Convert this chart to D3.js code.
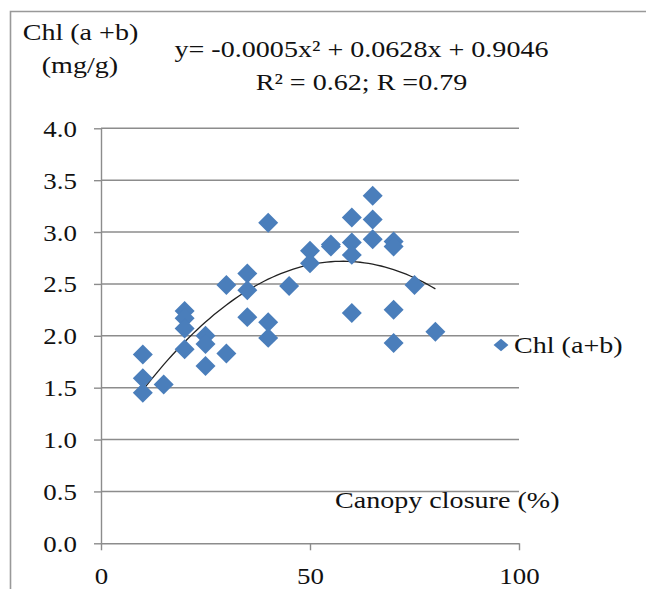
<html>
<head>
<script src="https://d3js.org/d3.v7.min.js"></script>
<style>
  body { margin: 0; background: #fff; }
  text { font-family: "Liberation Serif", "Times New Roman", serif; fill: #111; }
  .grid line { stroke: #8c8c8c; stroke-width: 1.4px; }
  .axis path, .axis line { stroke: #8c8c8c; stroke-width: 1.4px; }
</style>
</head>
<body>
<script>
// canopy closure (%) and chlorophyll (mg/g)
var canopy = [10, 10, 10, 15, 20, 20, 20, 20, 25, 25, 25, 30, 30, 35, 35, 35, 40, 40, 40,
              45, 50, 50, 55, 55, 60, 60, 60, 60, 65, 65, 65, 70, 70, 70, 70, 75, 80];
var chl    = [1.82, 1.59, 1.45, 1.53, 2.24, 2.17, 2.07, 1.87, 2.00, 1.92, 1.71, 2.49, 1.83, 2.60, 2.44, 2.18, 3.09, 2.13, 1.98,
              2.48, 2.82, 2.70, 2.88, 2.86, 3.14, 2.90, 2.78, 2.22, 3.35, 3.12, 2.93, 2.91, 2.86, 2.25, 1.93, 2.49, 2.04];
var xTicks = [0, 50, 100];
var yTicks = [0, 0.5, 1, 1.5, 2, 2.5, 3, 3.5, 4];
var seriesName = "Chl (a+b)";
var yTitle = ["Chl (a +b)", "(mg/g)"];
var xTitle = "Canopy closure (%)";
var equation = "y= -0.0005x² + 0.0628x + 0.9046";
var rLine = "R² = 0.62; R =0.79";

var W = 646, H = 589;
var plotL = 101, plotT = 128.3, plotR = 519, plotB = 543.3;
var sx = 1.17; // the source text is a bit wider than the font

var svg = d3.select("body").append("svg").attr("width", W).attr("height", H);

// outer frame
svg.append("path")
   .attr("d", "M10.5," + H + "V11.5H" + W)
   .attr("fill", "none").attr("stroke", "#999").attr("stroke-width", 1.6);

var x = d3.scaleLinear().domain([0, 100]).range([plotL, plotR]);
var y = d3.scaleLinear().domain([0, 4]).range([plotB, plotT]);

// grid lines
svg.append("g").attr("class", "grid")
   .selectAll("line").data(yTicks.filter(function(d){ return d > 0; }))
   .enter().append("line")
   .attr("x1", x(0)).attr("x2", x(100))
   .attr("y1", function(d){ return y(d); }).attr("y2", function(d){ return y(d); });

// y axis
var gy = svg.append("g").attr("class", "axis")
   .attr("transform", "translate(" + plotL + ",0)")
   .call(d3.axisLeft(y).tickValues(yTicks).tickSize(7).tickSizeOuter(0).tickFormat(d3.format(".1f")));
gy.selectAll("text")
   .attr("x", 0).attr("dy", null).attr("y", 0)
   .attr("transform", "translate(-24,8) scale(" + sx + ",1)")
   .style("font-size", "23px").style("fill", "#111");

// x axis
var gx = svg.append("g").attr("class", "axis")
   .attr("transform", "translate(0," + plotB + ")")
   .call(d3.axisBottom(x).tickValues(xTicks).tickSize(7).tickSizeOuter(0));
gx.selectAll("text")
   .attr("y", 0).attr("dy", null)
   .attr("transform", "translate(0,41) scale(" + sx + ",1)")
   .style("font-size", "23px").style("fill", "#111");

// quadratic trend line fitted to the points (least squares)
function fit2(xs, ys) {
  var s = [0,0,0,0,0], t = [0,0,0];
  xs.forEach(function(v, i) {
    for (var k = 0; k < 5; k++) s[k] += Math.pow(v, k);
    for (var k2 = 0; k2 < 3; k2++) t[k2] += Math.pow(v, k2) * ys[i];
  });
  var A = [[s[0], s[1], s[2], t[0]], [s[1], s[2], s[3], t[1]], [s[2], s[3], s[4], t[2]]];
  for (var c = 0; c < 3; c++) {
    for (var r = c + 1; r < 3; r++) {
      var f = A[r][c] / A[c][c];
      for (var j = c; j < 4; j++) A[r][j] -= f * A[c][j];
    }
  }
  var b = [0,0,0];
  for (var r2 = 2; r2 >= 0; r2--) {
    var sum = A[r2][3];
    for (var j2 = r2 + 1; j2 < 3; j2++) sum -= A[r2][j2] * b[j2];
    b[r2] = sum / A[r2][r2];
  }
  return b;
}
var coef = fit2(canopy, chl);
var xs = d3.range(d3.min(canopy), d3.max(canopy) + 0.01, 1);
svg.append("path")
   .datum(xs)
   .attr("fill", "none").attr("stroke", "#222").attr("stroke-width", 1.3)
   .attr("d", d3.line()
      .x(function(d){ return x(d); })
      .y(function(d){ return y(coef[0] + coef[1] * d + coef[2] * d * d); }));

// points
var diamond = d3.symbol().type(d3.symbolSquare).size(200);
svg.append("g").selectAll("path")
   .data(canopy)
   .enter().append("path")
   .attr("d", diamond)
   .attr("fill", "#4a7ebb")
   .attr("transform", function(d, i){ return "translate(" + x(d) + "," + y(chl[i]) + ") rotate(45)"; });

// texts
function label(str, px, py, anchor, size) {
  return svg.append("text")
     .attr("transform", "translate(" + px + "," + py + ") scale(" + sx + ",1)")
     .attr("text-anchor", anchor)
     .style("font-size", size + "px")
     .text(str);
}
label(yTitle[0], 22.7, 39.5, "start", 24);
label(yTitle[1], 41.7, 73, "start", 24);
label(equation, 361.5, 57, "middle", 24);
label(rLine, 361.5, 90, "middle", 24);
label(xTitle, 335, 508, "start", 24);

// legend
svg.append("path")
   .attr("d", d3.symbol().type(d3.symbolSquare).size(110))
   .attr("fill", "#4a7ebb")
   .attr("transform", "translate(501,345) scale(1,0.85) rotate(45)");
label(seriesName, 514, 353, "start", 24);
</script>
</body>
</html>
